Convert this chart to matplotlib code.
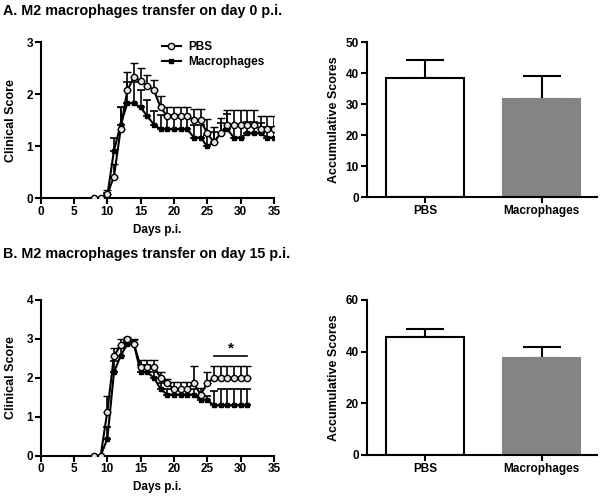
import matplotlib
matplotlib.use("Agg")
import matplotlib.pyplot as plt
from matplotlib.lines import Line2D
import numpy as np

plt.rcParams['font.family'] = ['Liberation Sans', 'DejaVu Sans']
plt.rcParams['font.weight'] = 'bold'

# ---- data ----
days_a = np.arange(8, 36)
pbs_a = [0, 0, 0.08, 0.42, 1.33, 2.08, 2.33, 2.25, 2.17, 2.08, 1.75, 1.58, 1.58, 1.58,
         1.58, 1.5, 1.5, 1.25, 1.08, 1.25, 1.42, 1.42, 1.42, 1.42, 1.42, 1.33, 1.33, 1.33]
pbs_a_err = [0, 0, 0.08, 0.25, 0.42, 0.35, 0.27, 0.25, 0.2, 0.2, 0.22, 0.18, 0.18, 0.18,
             0.18, 0.21, 0.21, 0.27, 0.3, 0.3, 0.28, 0.28, 0.28, 0.28, 0.28, 0.25, 0.25, 0.25]
mac_a = [0, 0, 0.05, 0.92, 1.42, 1.83, 1.83, 1.75, 1.58, 1.42, 1.33, 1.33, 1.33, 1.33,
         1.33, 1.17, 1.17, 1.0, 1.08, 1.25, 1.33, 1.17, 1.17, 1.25, 1.25, 1.25, 1.17, 1.17]
mac_a_err = [0, 0, 0.05, 0.25, 0.33, 0.4, 0.4, 0.33, 0.31, 0.26, 0.27, 0.27, 0.27, 0.27,
             0.27, 0.25, 0.25, 0.22, 0.2, 0.2, 0.3, 0.25, 0.25, 0.22, 0.22, 0.2, 0.2, 0.2]

days_b = np.arange(8, 32)
pbs_b = [0, 0, 1.13, 2.57, 2.83, 3.0, 2.87, 2.29, 2.29, 2.29, 2.0, 1.86, 1.71, 1.71,
         1.71, 1.86, 1.57, 1.86, 2.0, 2.0, 2.0, 2.0, 2.0, 2.0]
pbs_b_err = [0, 0, 0.4, 0.19, 0.16, 0.05, 0.13, 0.17, 0.17, 0.17, 0.15, 0.12, 0.19, 0.19,
             0.19, 0.44, 0.18, 0.29, 0.3, 0.3, 0.3, 0.3, 0.3, 0.3]
mac_b = [0, 0, 0.43, 2.14, 2.57, 2.86, 2.86, 2.14, 2.14, 2.0, 1.71, 1.57, 1.57, 1.57,
         1.57, 1.57, 1.43, 1.43, 1.29, 1.29, 1.29, 1.29, 1.29, 1.29]
mac_b_err = [0, 0, 0.3, 0.3, 0.2, 0.1, 0.1, 0.2, 0.2, 0.15, 0.15, 0.15, 0.15, 0.15,
             0.15, 0.15, 0.1, 0.1, 0.36, 0.42, 0.42, 0.42, 0.42, 0.42]

groups = ['PBS', 'Macrophages']
acc_a = [38.6, 31.9]
acc_a_err = [5.6, 7.4]
acc_b = [45.8, 37.4]
acc_b_err = [3.1, 4.4]

titles = ['A. M2 macrophages transfer on day 0 p.i.',
          'B. M2 macrophages transfer on day 15 p.i.']

fig = plt.figure(figsize=(6.01, 4.96), dpi=100)

LW = 1.5
PBS_STYLE = dict(marker='o', color='black', mfc='#e6e6e6', mec='black', mew=1.0, ms=4.5, lw=1.5)
MAC_STYLE = dict(marker='s', color='black', ms=3.5, lw=1.5)


def style(ax):
    for s in ['top', 'right']:
        ax.spines[s].set_visible(False)
    for s in ['left', 'bottom']:
        ax.spines[s].set_linewidth(LW)
    ax.tick_params(width=LW, length=4, labelsize=8.5, pad=1.5)
    for lab in ax.get_xticklabels() + ax.get_yticklabels():
        lab.set_fontweight('bold')


def line_panel(ax, days, pbs, pbs_err, mac, mac_err, ymax):
    ax.errorbar(days, mac, yerr=[np.zeros(len(mac)), mac_err], elinewidth=1.2, capsize=3,
                capthick=1.2, zorder=3, **MAC_STYLE)
    ax.errorbar(days, pbs, yerr=[np.zeros(len(pbs)), pbs_err], elinewidth=1.2, capsize=3,
                capthick=1.2, zorder=4, **PBS_STYLE)
    ax.set_xlim(0, 35)
    ax.set_ylim(0, ymax)
    ax.set_xticks(range(0, 36, 5))
    ax.set_yticks(range(0, ymax + 1))
    ax.set_xlabel('Days p.i.', fontsize=8.5, fontweight='bold', labelpad=4)
    ax.set_ylabel('Clinical Score', fontsize=9, fontweight='bold', labelpad=7)
    ax.spines['left'].set_bounds(0, ymax)
    style(ax)


def bar_panel(ax, vals, errs, ymax, ystep):
    x = np.arange(len(groups))
    ax.bar(x, vals, width=0.66, color=['white', '#848484'],
           edgecolor=['black', '#848484'], linewidth=LW, zorder=2)
    ax.errorbar(x, vals, yerr=[np.zeros(len(vals)), errs], fmt='none', ecolor='black',
                elinewidth=LW, capsize=14, capthick=LW, zorder=1)
    ax.set_xlim(-0.5, 1.47)
    ax.set_ylim(0, ymax)
    ax.set_xticks(x)
    ax.set_xticklabels(groups)
    ax.set_yticks(np.arange(0, ymax + 1, ystep))
    ax.set_ylabel('Accumulative Scores', fontsize=9, fontweight='bold', labelpad=4)
    style(ax)


ax1 = fig.add_axes([0.0677, 0.600, 0.388, 0.3145])
line_panel(ax1, days_a, pbs_a, pbs_a_err, mac_a, mac_a_err, 3)
handles = [Line2D([], [], **PBS_STYLE), Line2D([], [], **MAC_STYLE)]
ax1.legend(handles, groups, loc='upper left', bbox_to_anchor=(0.5, 1.04), frameon=False,
           prop={'weight': 'bold', 'size': 8.5}, handlelength=1.6, labelspacing=0.3,
           borderaxespad=0, handletextpad=0.6)

ax2 = fig.add_axes([0.610, 0.602, 0.3827, 0.3125])
bar_panel(ax2, acc_a, acc_a_err, 50, 10)

ax3 = fig.add_axes([0.0677, 0.0813, 0.388, 0.314])
line_panel(ax3, days_b, pbs_b, pbs_b_err, mac_b, mac_b_err, 4)
ax3.plot([26, 31], [2.55, 2.55], color='black', lw=1.2)
ax3.text(28.5, 2.58, '*', ha='center', va='bottom', fontsize=11, fontweight='bold')

ax4 = fig.add_axes([0.610, 0.0827, 0.3827, 0.3125])
bar_panel(ax4, acc_b, acc_b_err, 60, 20)

fig.text(0.005, 0.978, titles[0], fontsize=10.3, fontweight='bold', va='center')
fig.text(0.005, 0.488, titles[1], fontsize=10.3, fontweight='bold', va='center')

fig.savefig('out.png', dpi=100)
